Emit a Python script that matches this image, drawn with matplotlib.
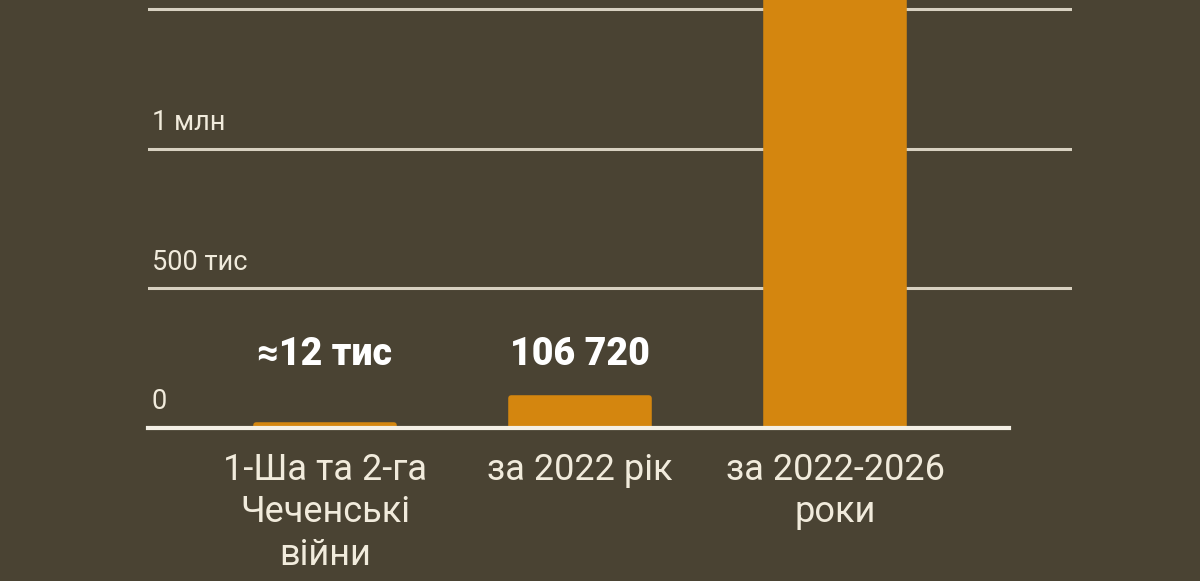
import numpy as np
import matplotlib.pyplot as plt

# data
categories = ['1-Ша та 2-га\nЧеченські\nвійни', 'за 2022 рік', 'за 2022-2026\nроки']
values = [12000, 106720, 1540000]
value_labels = ['≈12 тис', '106 720', '']
tick_values = [0, 500000, 1000000, 1500000]
tick_labels = ['0', '500 тис', '1 млн', '']

bg = '#4a4333'
bar_col = '#d4860f'
txt_col = '#f1ebdc'

plt.rcParams['font.family'] = ['Roboto', 'DejaVu Sans']

fig = plt.figure(figsize=(12, 5.81), dpi=100)
fig.patch.set_facecolor(bg)
# axes: left edge at 148px, right at 1072px, baseline at y=428px, top = figure top
ax = fig.add_axes([148/1200, (581-428)/581, (1072-148)/1200, 428/581])
ax.set_facecolor(bg)

x = np.arange(len(categories))
ax.bar(x, values, width=0.54, color=bar_col, edgecolor=bar_col,
       linewidth=4, joinstyle='round', zorder=3)

ax.set_xlim(-0.694, 2.929)
ax.set_ylim(0, 1534000)

# gridlines
for v in tick_values[1:]:
    ax.axhline(v, color='#d8d1c1', lw=2.2, zorder=1)
# baseline shorter than gridlines
ax.axhline(0, xmin=0, xmax=(1009-148)/(1072-148), color='#f4f0e6', lw=3, zorder=4, clip_on=False)

# y labels above gridlines
for v, lab in zip(tick_values, tick_labels):
    if lab:
        ax.annotate(lab, xy=(0.004, v), xycoords=('axes fraction', 'data'),
                    xytext=(0, 19), textcoords='offset points',
                    ha='left', va='center', color=txt_col, fontsize=19.5)

# value labels at fixed height
for xi, lab in zip(x, value_labels):
    if lab:
        ax.annotate(lab, xy=(xi, 0), xytext=(0, 53), textcoords='offset points',
                    ha='center', va='center', color='white', fontsize=27,
                    fontweight='heavy')

# category labels
for xi, lab in zip(x, categories):
    ax.annotate(lab, xy=(xi, 0), xytext=(0, -17), textcoords='offset points',
                ha='center', va='top', color=txt_col, fontsize=26,
                linespacing=1.24, annotation_clip=False)

for s in ax.spines.values():
    s.set_visible(False)
ax.set_xticks([])
ax.set_yticks([])

fig.savefig('out.png', dpi=100, facecolor=bg)
